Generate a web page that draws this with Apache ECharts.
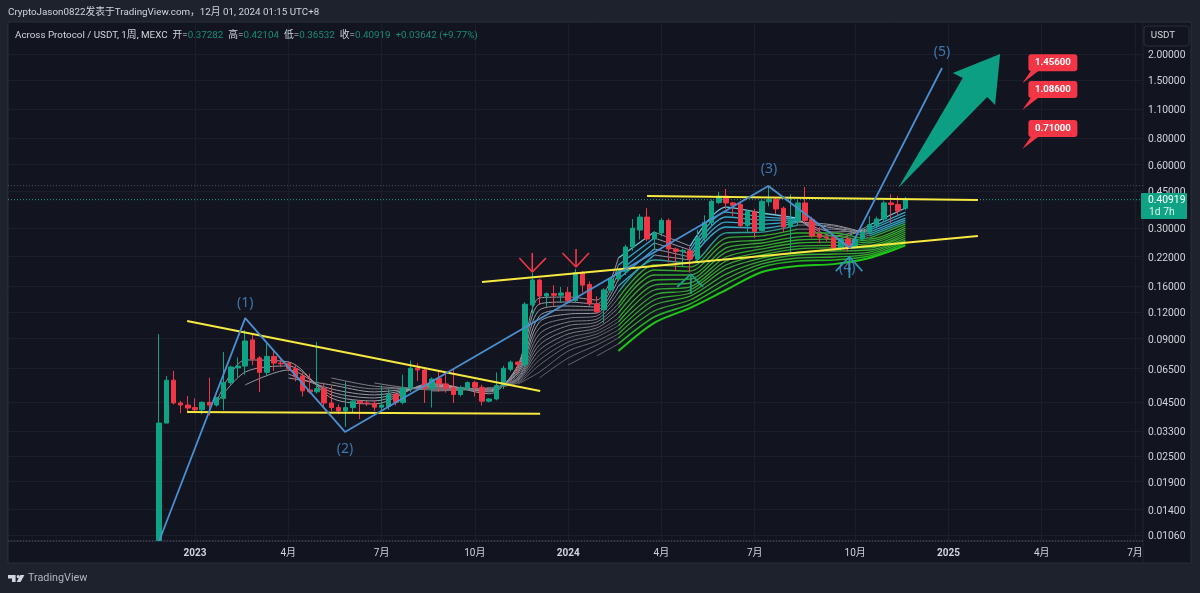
<!DOCTYPE html>
<html><head><meta charset="utf-8"><style>html,body{margin:0;padding:0;background:#1e222d}#c{width:1200px;height:593px}</style>
<script src="https://cdn.jsdelivr.net/npm/echarts@6/dist/echarts.min.js"></script></head><body><div id="c"></div><script>
const _ = null;
// weekly candles, k = weeks since 2022-11-28
const opens  = [.0100,.0359,.0573,.0447,.0437,.0425,.0415,.0450,.0437,.0470,.0558,.0655,.0668,.0888,.0730,.0624,.0742,.0690,.0688,.0650,.0600,.0515,.0505,.0522,.0447,.0425,.0410,.0425,.0456,.0447,.0445,.0427,.0430,.0491,.0450,.0525,.0652,.0640,.0525,.0585,.0550,.0527,.0490,.0525,.0558,.0530,.0456,.0467,.0540,.0645,.0697,.0680,.1300,.1705,.1432,.1470,.1445,.1490,.1365,.1848,.1625,.1313,.1235,.1530,.1725,.1868,.2443,.2940,.3385,.2666,.2850,.3265,.2390,.2330,.2345,.2143,.2695,.3195,.3970,.4250,.3950,.3880,.3085,.3590,.2925,.4000,.4100,.3730,.3065,.3245,.3950,.3300,.2815,.2720,.2720,.2415,.2665,.2465,.2665,.2870,.3085,.3315,.3950,.3880,.37282];
const closes = [.0359,.0573,.0447,.0437,.0423,.0415,.0450,.0437,.0474,.0558,.0661,.0668,.0878,.0722,.0624,.0742,.0690,.0685,.0650,.0595,.0510,.0505,.0522,.0447,.0425,.0410,.0425,.0456,.0447,.0445,.0427,.0437,.0491,.0450,.0525,.0652,.0640,.0525,.0580,.0550,.0525,.0490,.0527,.0558,.0530,.0456,.0467,.0540,.0652,.0697,.0680,.1310,.1705,.1432,.1470,.1445,.1480,.1365,.1848,.1615,.1313,.1206,.1530,.1725,.1868,.2443,.3000,.3385,.2666,.2850,.3265,.2390,.2330,.2355,.2143,.2695,.3195,.4020,.4250,.3950,.3850,.3085,.3590,.2895,.4020,.4100,.3700,.3040,.3265,.3950,.3265,.2755,.2720,.2700,.2415,.2665,.2415,.2665,.2870,.3115,.3315,.3950,.3880,.3625,.40919];
const lows   = [.0100,.0359,.0440,.0400,.0400,.0400,.0395,.0390,.0430,.0413,.0545,.0590,.0609,.0675,.0504,.0597,.0633,.0660,.0630,.0565,.0480,.0495,.0495,.0425,.0410,.0395,.0345,.0400,.0375,.0432,.0410,.0415,.0415,.0435,.0440,.0505,.0568,.0447,.0425,.0504,.0500,.0447,.0480,.0510,.0480,.0435,.0450,.0460,.0520,.0630,.0620,.0660,.1158,.1300,.1275,.1290,.1330,.1340,.1340,.1490,.1280,.1180,.1065,.1490,.1680,.1800,.2350,.2650,.2600,.2360,.2750,.2065,.1897,.1970,.1850,.2100,.2600,.3100,.3900,.3700,.3420,.3000,.2870,.2700,.2900,.3800,.3500,.2870,.2280,.3100,.3150,.2700,.2540,.2600,.2350,.2350,.2320,.2400,.2600,.2800,.3000,.3250,.3175,.3450,.36532];
const highs  = [.0947,.0599,.0634,.0457,.0482,.0470,.0455,.0588,.0474,.0778,.0670,.0734,.0988,.0957,.0745,.0860,.0794,.0720,.0700,.0680,.0625,.0615,.0869,.0558,.0540,.0440,.0565,.0460,.0458,.0458,.0460,.0540,.0520,.0500,.0609,.0710,.0689,.0660,.0590,.0630,.0609,.0650,.0540,.0565,.0570,.0545,.0470,.0624,.0670,.0710,.0705,.1340,.1848,.1730,.1490,.1610,.1580,.1580,.1925,.1880,.1680,.1430,.1560,.1760,.1900,.2500,.3314,.3500,.3730,.2900,.3350,.3330,.2430,.2400,.2450,.2950,.3450,.4100,.4450,.4600,.4000,.3950,.3650,.3700,.4100,.4700,.4200,.3800,.4340,.4100,.4700,.3400,.3040,.2800,.2760,.2700,.2750,.2720,.2950,.3420,.3400,.4050,.4340,.4250,.42104];
const lastChange = '+0.03642 (+9.77%)';

// moving-average ribbon, read at these weeks (fastest line first)
const ribbonWeeks = [8,12,18,24,30,38,46,50,53,57,61,64,69,74,79,84,89,94,99,104];
const ema01 = [.0452,.0714,.0699,.0472,.0442,.0556,.0494,.0676,.1402,.1417,.1372,.2168,.2877,.2468,.3777,.3539,.3350,.2637,.3105,.3737];
const ema02 = [.0447,.0626,.0669,.0488,.0457,.0549,.0504,.0662,.1313,.1342,.1313,.2009,.2694,.2365,.3576,.3389,.3316,.2756,.3003,.3576];
const ema03 = [_,.0544,.0640,.0504,.0472,.0544,.0509,.0649,.1230,.1285,.1272,.1860,.2553,.2264,.3389,.3278,.3278,.2876,.2941,.3462];
const ema04 = [_,_,.0613,.0521,.0488,.0537,.0515,.0633,.1153,.1230,.1230,.1725,.2392,.2192,.3206,.3137,.3242,.3003,.2877,.3349];
const ema05 = [_,_,.0587,.0544,.0504,.0532,.0521,.0620,.1080,.1177,.1191,.1600,.2240,.2121,.3038,.3003,.3206,.3105,.2815,.3278];
const ema06 = [_,_,_,.0561,.0521,.0526,.0521,.0606,.1012,.1125,.1153,.1496,.2121,.2053,.2847,.2876,.3105,.3071,.2756,.3206];
const ema07 = [_,_,_,.0587,.0537,.0521,.0521,.0592,.0948,.1080,.1114,.1402,.2009,.1966,.2694,.2756,.2967,.2967,.2694,.3137];
const ema08 = [_,_,_,_,.0556,.0515,.0526,.0587,.0888,.1037,.1080,.1313,.1902,.1881,.2553,.2637,.2847,.2847,.2664,.3071];
const ema09 = [_,_,_,_,_,.0515,.0526,.0580,.0841,.0990,.1045,.1260,.1801,.1801,.2419,.2553,.2727,.2756,.2608,.3003];
const ema10 = [_,_,_,_,_,.0509,.0526,.0574,.0796,.0948,.1012,.1191,.1706,.1725,.2313,.2468,.2637,.2664,.2553,.2941];
const ema11 = [_,_,_,_,_,_,.0526,.0568,.0754,.0908,.0979,.1125,.1615,.1651,.2192,.2392,.2553,.2579,.2490,.2876];
const ema12 = [_,_,_,_,_,_,.0526,.0561,.0714,.0868,.0948,.1080,.1530,.1581,.2098,.2313,.2468,.2490,.2442,.2815];
const ema13 = [_,_,_,_,_,_,.0526,.0556,.0676,.0832,.0918,.1037,.1449,.1530,.2009,.2240,.2392,.2419,.2419,.2756];
const ema14 = [_,_,_,_,_,_,_,.0549,.0626,.0787,.0878,.0990,.1372,.1481,.1924,.2168,.2313,.2339,.2365,.2694];
const ema15 = [_,_,_,_,_,_,_,_,.0587,.0729,.0841,.0948,.1299,.1432,.1820,.2098,.2240,.2264,.2313,.2637];
const ema16 = [_,_,_,_,_,_,_,_,_,.0676,.0796,.0908,.1217,.1372,.1725,.2032,.2168,.2192,.2264,.2608];
const ema17 = [_,_,_,_,_,_,_,_,_,_,.0746,.0850,.1140,.1313,.1634,.1966,.2098,.2121,.2216,.2553];
const ema18 = [_,_,_,_,_,_,_,_,_,_,_,.0787,.1070,.1260,.1530,.1861,.1987,.2028,.2168,.2490];
const ribbon = [ema01,ema02,ema03,ema04,ema05,ema06,ema07,ema08,ema09,ema10,ema11,ema12,ema13,ema14,ema15,ema16,ema17,ema18];

// axes
const priceTicks = [2,1.5,1.1,.8,.6,.45,.3,.22,.16,.12,.09,.065,.045,.033,.025,.019,.014,.0106];
const timeTickWeeks = [5,18,31,44,57,70,83,97,110,123,136];
const timeTickLabels = ['2023','4月','7月','10月','2024','4月','7月','10月','2025','4月','7月'];

// drawings, in [week, price]
const yellowLines = [
  [[3.9,.1092],[53.1,.0509]],
  [[3.9,.0405],[53.1,.0397]],
  [[45,.1668],[114.1,.2756]],
  [[68,.4260],[114.1,.4076]]];
const waveLine = [[0,.00994],[12,.1127],[25.9,.0326],[84.9,.4750],[96.3,.2419],[109.1,1.717]];
const waveLabels = [[12,.1328,'(1)'],[25.9,.0270,'(2)'],[85,.5715,'(3)'],[95.9,.1943,'(4)'],[109.1,2.044,'(5)']];
const redArrows = [
  [[52,.2289],[52,.1860]],[[50.2,.2166],[52,.1860],[53.9,.2166]],
  [[58.1,.2392],[58.1,.1966]],[[56.2,.2289],[58.1,.1966],[59.9,.2289]]];
const greenArrow = [[[74.1,.1464],[74.1,.1820]],[[72.2,.1581],[74.1,.1820],[75.8,.1581]]];
const tealArrow = [[[96.2,.1743],[96.2,.2192]],[[94.3,.1881],[96.2,.2192],[98,.1881]]];
const bigArrow = [[103,.4645],[112,1.540],[110.6,1.626],[117.2,2.0],[116.5,1.148],[115.4,1.252]];
const targets = [[120.3,1.456],[120.3,1.086],[120.3,.71]];
const priceLast = .40919, priceHigh = .4768, priceLow = .00994;
const xMin = -21.06, xMax = 137.11;

const UP='#0fa385', DOWN='#f23645', TEXT='#d1d4dc';
const FONT='Roboto,"Noto Sans CJK SC",sans-serif';
const candleData = opens.map((o,i)=>[i,o,closes[i],lows[i],highs[i]]);
const series = [];
const grayAt=(j,k)=> k<64 || (j<5&&k>=69&&k<74) || (j<7&&k>=89&&k<99);
const colorOf=j=> j===0?'#66c8df': j<5?'#35a7c9': j===5?'#2f9e8f': j<16?'#35a82f': j===16?'#22b022':'#1fc716';
const grayOf=j=> j<5?'#9a9aa2': j<10?'#7c7c84':'#66666e';
ribbon.forEach((line,j)=>{
  let run=[],gray=null;
  const flush=()=>{ if(run.length>1) series.push({type:'line',data:run,showSymbol:false,silent:true,smooth:.3,z:2,
    lineStyle:{width: gray?1:(j===17?2:j===16?1.6:1.3),color:gray?grayOf(j):colorOf(j)}}); };
  for(let i=0;i<ribbonWeeks.length-1;i++){
    if(line[i]==null) continue;
    const g=grayAt(j,ribbonWeeks[i]);
    if(g!==gray){ flush(); run= [[ribbonWeeks[i],line[i]]]; gray=g; }
    run.push([ribbonWeeks[i+1],line[i+1]]);
  }
  flush();
});
series.push({type:'candlestick',data:candleData,encode:{x:0,y:[1,2,3,4]},barWidth:5,z:3,silent:true,
  itemStyle:{color:UP,color0:DOWN,borderColor:UP,borderColor0:DOWN,borderWidth:1}});
const drawLine=(data,color,width,extra)=>series.push(Object.assign({type:'line',data,showSymbol:false,silent:true,z:5,lineStyle:{color,width}},extra||{}));
drawLine([[xMin,priceHigh],[xMax,priceHigh]],'#5a5e6a',1,{lineStyle:{color:'#4f5360',width:1,type:[1,2]},z:1});
drawLine([[xMin,priceLow],[xMax,priceLow]],'#5a5e6a',1,{lineStyle:{color:'#4f5360',width:1,type:[1,2]},z:1,clip:false});
drawLine([[xMin,priceLast],[xMax,priceLast]],'#26a08b',1,{lineStyle:{color:'#26a08b',width:1,type:[1,2]},z:1});
yellowLines.forEach(l=>drawLine(l,'#f7e93f',2));
drawLine(waveLine,'#4a8fd0',1.8,{z:6});
redArrows.forEach(l=>drawLine(l,DOWN,1.6));
greenArrow.forEach(l=>drawLine(l,'#1f9d7f',1.8));
tealArrow.forEach(l=>drawLine(l,'#2a93ad',1.8));
series.push({type:'scatter',data:waveLabels,symbolSize:0,silent:true,z:7,
  label:{show:true,position:'inside',formatter:p=>p.value[2],color:'#4a8fd0',fontSize:14,fontFamily:'"Noto Sans",sans-serif'}});
series.push({type:'custom',coordinateSystem:'cartesian2d',data:[bigArrow[0]],silent:true,z:6,
  renderItem:(params,api)=>({type:'polygon',shape:{points:bigArrow.map(p=>api.coord(p))},style:{fill:'#0c9f83'}})});
series.push({type:'custom',coordinateSystem:'cartesian2d',data:targets,silent:true,z:6,
  renderItem:(params,api)=>{
    const v=api.value(1),p=api.coord([api.value(0),v]);
    return {type:'group',x:p[0],y:p[1],children:[
      {type:'polygon',shape:{points:[[0,0],[9,-13],[17,-13]]},style:{fill:DOWN}},
      {type:'rect',shape:{x:6,y:-29,width:49,height:17,r:3},style:{fill:DOWN}},
      {type:'text',style:{x:30.5,y:-20.5,text:v.toFixed(5),fill:'#fff',font:'bold 9.6px '+FONT,align:'center',verticalAlign:'middle'}}
    ]};
  }});

const legendRich={w:{fill:TEXT,font:'9.82px '+FONT,},g:{fill:'#1a8a76',font:'9.82px '+FONT}};
const f5=v=>v.toFixed(5);
const n=opens.length-1;
const legendText=`{w|Across Protocol / USDT, 1周, MEXC  开=}{g|${f5(opens[n])}}{w|  高=}{g|${f5(highs[n])}}{w|  低=}{g|${f5(lows[n])}}{w|  收=}{g|${f5(closes[n])}}{g|  ${lastChange}}`;
const graphics=[
  {type:'rect',z:-5,silent:true,shape:{x:8,y:22,width:1183,height:541},style:{fill:'#12151f',stroke:'#2a2e39',lineWidth:1}},
  {type:'line',z:-4,silent:true,shape:{x1:8,y1:541,x2:1143,y2:541},style:{stroke:'#2a2e39',lineWidth:1}},
  {type:'line',z:-4,silent:true,shape:{x1:1143,y1:22,x2:1143,y2:563},style:{stroke:'#20242f',lineWidth:1}},
  {type:'text',z:50,silent:true,style:{x:8,y:13,text:'CryptoJason0822发表于TradingView.com，12月 01, 2024 01:15 UTC+8',fill:TEXT,font:'9.8px '+FONT,verticalAlign:'middle'}},
  {type:'text',z:50,silent:true,style:{x:15,y:35.5,text:legendText,rich:legendRich,verticalAlign:'middle'}},
  {type:'rect',z:50,silent:true,shape:{x:1144,y:26,width:45,height:20,r:3},style:{fill:'#12151f',stroke:'#2a2e39',lineWidth:1}},
  {type:'text',z:51,silent:true,style:{x:1163,y:36,text:'USDT',fill:TEXT,font:'9.8px '+FONT,align:'center',verticalAlign:'middle'}},
  {type:'rect',z:50,silent:true,shape:{x:1141,y:193,width:46,height:26,r:1},style:{fill:'#0fa385'}},
  {type:'text',z:51,silent:true,style:{x:1148,y:200,text:f5(priceLast),fill:'#fff',font:'10.3px '+FONT,verticalAlign:'middle'}},
  {type:'text',z:51,silent:true,style:{x:1149,y:212,text:'1d 7h',fill:'#d8f3ec',font:'10.3px '+FONT,verticalAlign:'middle'}},
  {type:'polygon',z:50,silent:true,shape:{points:[[8,575],[15.6,575],[15.6,582],[12,582],[12,578.4],[8,578.4]]},style:{fill:TEXT}},
  {type:'polygon',z:50,silent:true,shape:{points:[[20.4,575],[24.4,575],[20.6,582],[16.6,582]]},style:{fill:TEXT}},
  {type:'circle',z:50,silent:true,shape:{cx:18.2,cy:576.6,r:1.6},style:{fill:TEXT}},
  {type:'text',z:50,silent:true,style:{x:28,y:578.5,text:'TradingView',fill:'#b2b5be',font:'10.8px '+FONT,verticalAlign:'middle'}}
];
const chart=echarts.init(document.getElementById('c'),null,{width:1200,height:593});
chart.setOption({
  animation:false,backgroundColor:'#1e222d',
  grid:{left:8,top:23,width:1135,height:518,containLabel:false},
  xAxis:{type:'value',min:xMin,max:xMax,
    axisLine:{show:false},axisTick:{show:false,customValues:timeTickWeeks},
    axisLabel:{customValues:timeTickWeeks,margin:7,color:TEXT,fontFamily:FONT,fontSize:10,
      formatter:v=>{const s=timeTickLabels[timeTickWeeks.indexOf(v)]||''; return /^\d{4}$/.test(s)?`{b|${s}}`:s;},
      rich:{b:{fontWeight:'bold',color:TEXT,fontSize:10,fontFamily:FONT}}},
    splitLine:{show:true,lineStyle:{color:'#1b1f2b',width:1}}},
  yAxis:{type:'log',logBase:10,position:'right',min:.00994,max:2.803,
    axisLine:{show:false},axisTick:{show:false,customValues:priceTicks},
    axisLabel:{customValues:priceTicks,margin:5,color:TEXT,fontFamily:FONT,fontSize:10.3,
      formatter:v=>`{a|${Number(v).toFixed(5)}}`,
      rich:{a:{color:TEXT,fontFamily:FONT,fontSize:10.3,padding:[3,0,0,0]}}},
    splitLine:{show:true,lineStyle:{color:'#1b1f2b',width:1}}},
  graphic:{elements:graphics},
  series
});
</script></body></html>
